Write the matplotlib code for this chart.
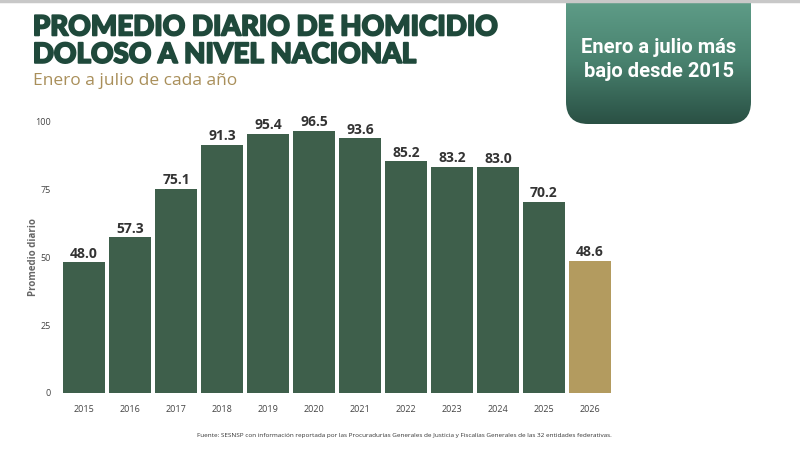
import numpy as np
import matplotlib
matplotlib.use('Agg')
import matplotlib.pyplot as plt
import matplotlib.patheffects as pe
from matplotlib.patches import FancyBboxPatch
from matplotlib.colors import LinearSegmentedColormap

# data
years = ['2015', '2016', '2017', '2018', '2019', '2020', '2021', '2022', '2023', '2024', '2025', '2026']
promedio = [48.0, 57.3, 75.1, 91.3, 95.4, 96.5, 93.6, 85.2, 83.2, 83.0, 70.2, 48.6]
yticks = [0, 25, 50, 75, 100]

verde = '#3e5f4b'
dorado = '#b39b5f'
colores = [verde] * (len(years) - 1) + [dorado]

fig = plt.figure(figsize=(8, 4.5), dpi=100)
fig.patch.set_facecolor('white')

# grey line on top
fig.add_artist(plt.Line2D([0, 1], [0.997, 0.997], color='#c8c8c8', lw=2.5))

# chart
ax = fig.add_axes([0.0705, 0.1267, 0.7015, 0.6043])
x = np.arange(len(years))
bars = ax.bar(x, promedio, width=0.9, color=colores)
for xi, v in zip(x, promedio):
    ax.text(xi, v + 0.6, f'{v:.1f}', ha='center', va='bottom', fontsize=10,
            fontweight='bold', color='#333333', family='Open Sans')
ax.set_xlim(-0.6, 11.6)
ax.set_ylim(0, 100)
ax.set_xticks(x)
ax.set_xticklabels(years, fontsize=6.5, color='#444444', family='Open Sans')
ax.set_yticks(yticks)
ax.set_yticklabels([str(t) for t in yticks], fontsize=6.5, color='#444444', family='Open Sans')
ax.tick_params(axis='x', length=0, pad=9)
ax.tick_params(axis='y', length=0, pad=4)
for s in ax.spines.values():
    s.set_visible(False)
ax.set_ylabel('Promedio diario', fontsize=7, color='#666666', fontweight='bold',
              family='Open Sans')
ax.yaxis.set_label_coords(-0.031, 0.5)

# titles
titulo = fig.text(0.041, 0.968, 'PROMEDIO DIARIO DE HOMICIDIO\nDOLOSO A NIVEL NACIONAL',
                  ha='left', va='top', fontsize=20, fontweight='black', color='#1f493b',
                  family='Lato', linespacing=1.07)
titulo.set_path_effects([pe.withStroke(linewidth=1.3, foreground='#1f493b')])
fig.text(0.041, 0.803, 'Enero a julio de cada año', ha='left', va='bottom',
         fontsize=12.5, color='#a98f5a', family='Open Sans')

# gradient box
bw, bh = 185, 124
bax = fig.add_axes([566 / 800, 1 - bh / 450, bw / 800, bh / 450])
bax.set_xlim(0, 1)
bax.set_ylim(0, 1)
bax.axis('off')
cmap = LinearSegmentedColormap.from_list('caja', ['#2a5044', '#48816e', '#5f9d88'])
grad = np.linspace(0, 1, 256).reshape(-1, 1)
im = bax.imshow(grad, extent=[0, 1, 0, 1], origin='lower', cmap=cmap, aspect='auto')
clip = FancyBboxPatch((0, 0), 1, 1.5, boxstyle='round,pad=0,rounding_size=0.12',
                      mutation_aspect=bw / bh, transform=bax.transData,
                      facecolor='none', edgecolor='none')
bax.add_patch(clip)
im.set_clip_path(clip)
bax.text(0.5, 0.52, 'Enero a julio más\nbajo desde 2015', ha='center', va='center',
         fontsize=14.5, fontweight='bold', color='white', family='Roboto',
         linespacing=1.38)

# source
fig.text(0.506, 0.033, 'Fuente: SESNSP con información reportada por las Procuradurías Generales '
         'de Justicia y Fiscalías Generales de las 32 entidades federativas.',
         ha='center', va='center', fontsize=4.6, color='#333333', family='Open Sans')

fig.savefig('out.png', dpi=100)
